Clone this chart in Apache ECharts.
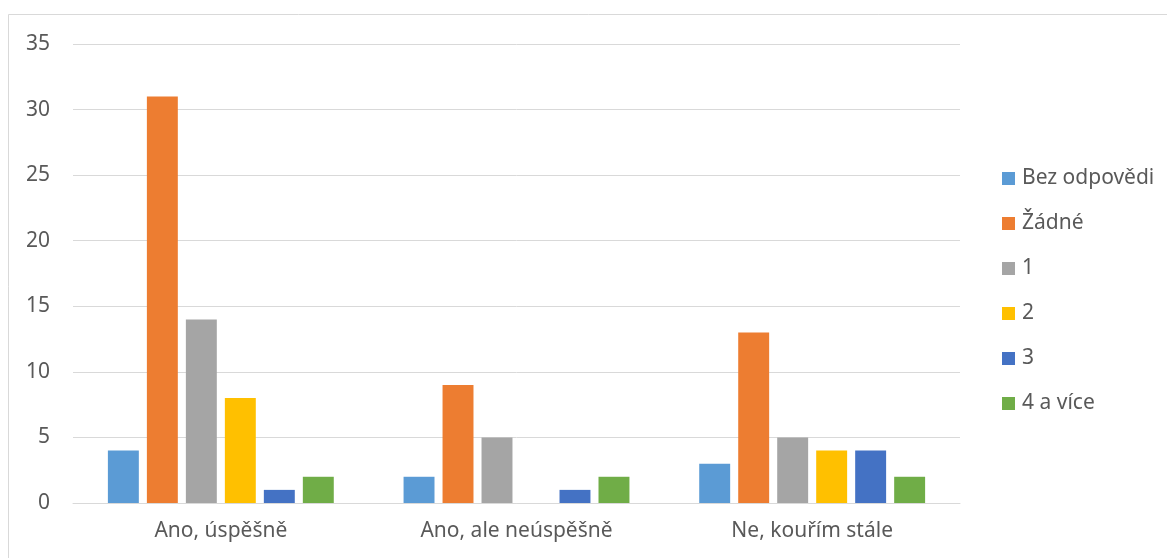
<!DOCTYPE html>
<html>
<head>
<meta charset="utf-8">
<style>
  html, body { margin: 0; padding: 0; background: #ffffff; }
  #chart { width: 1167px; height: 558px; }
</style>
<script src="https://cdn.jsdelivr.net/npm/echarts@6/dist/echarts.min.js"></script>
</head>
<body>
<div id="chart"></div>
<script>
// Categories on the x axis
const categories = ['Ano, úspěšně', 'Ano, ale neúspěšně', 'Ne, kouřím stále'];

// One series per answer group
const seriesNames = ['Bez odpovědi', 'Žádné', '1', '2', '3', '4 a více'];
const bezOdpovedi = [4, 2, 3];
const zadne = [31, 9, 13];
const jeden = [14, 5, 5];
const dva = [8, 0, 4];
const tri = [1, 1, 4];
const ctyriAVice = [2, 2, 2];

const yTicks = { min: 0, max: 35, interval: 5 };

const colors = ['#5b9bd5', '#ed7d31', '#a5a5a5', '#ffc000', '#4472c4', '#70ad47'];
const values = [bezOdpovedi, zadne, jeden, dva, tri, ctyriAVice];

const textFont = '"Noto Sans", "Open Sans", sans-serif';
const fontSize = 21;

const chart = echarts.init(document.getElementById('chart'), null, { renderer: 'canvas' });

chart.setOption({
  backgroundColor: '#ffffff',
  animation: false,
  color: colors,
  graphic: [{
    type: 'rect',
    shape: { x: 8.5, y: 14.5, width: 1170, height: 560 },
    style: { fill: 'none', stroke: '#d9d9d9', lineWidth: 1 },
    silent: true
  }],
  grid: { left: 73, right: 207, top: 44, bottom: 55, containLabel: false },
  legend: {
    orient: 'vertical',
    left: 997,
    top: 161,
    itemWidth: 13,
    itemHeight: 13,
    itemGap: 20,
    icon: 'rect',
    textStyle: { color: '#595959', fontSize: fontSize, fontFamily: textFont, lineHeight: 25, padding: [0, 0, 0, 2] },
    data: seriesNames
  },
  xAxis: {
    type: 'category',
    data: categories,
    axisLine: { show: true, lineStyle: { color: '#d9d9d9', width: 1 } },
    axisTick: { show: false },
    axisLabel: { color: '#595959', fontSize: fontSize, fontFamily: textFont, margin: 18 }
  },
  yAxis: {
    type: 'value',
    min: yTicks.min,
    max: yTicks.max,
    interval: yTicks.interval,
    axisLine: { show: false },
    axisTick: { show: false },
    splitLine: { lineStyle: { color: '#d9d9d9', width: 1 } },
    axisLabel: { color: '#595959', fontSize: fontSize, fontFamily: textFont, margin: 23 }
  },
  series: seriesNames.map((name, i) => ({
    name: name,
    type: 'bar',
    data: values[i],
    barGap: '26%',
    barCategoryGap: '23.6%',
    itemStyle: { color: colors[i] }
  }))
});
</script>
</body>
</html>
